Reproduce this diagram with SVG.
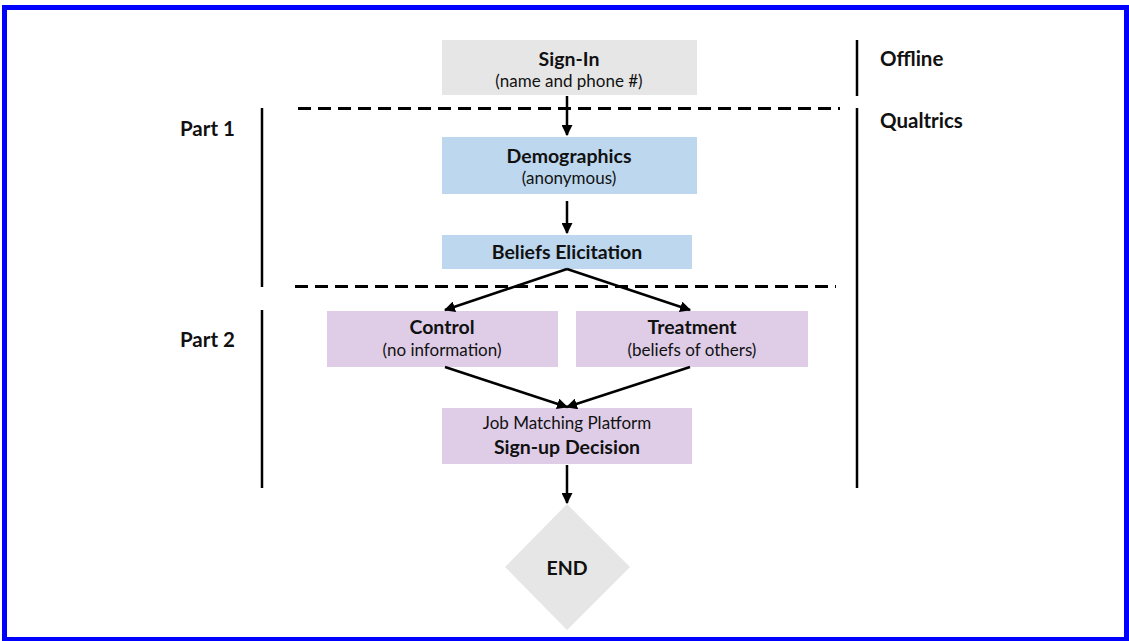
<svg xmlns="http://www.w3.org/2000/svg" width="1129" height="641" viewBox="0 0 1129 641">
<style>
text{font-family:"Lato","Open Sans","Liberation Sans",sans-serif;fill:#111;text-anchor:middle}
.b{font-weight:bold;font-size:19.5px}
.n{font-size:17px}
.lbl{font-weight:bold;font-size:20.5px;text-anchor:start}
.gray{fill:#e6e6e6}
.blue{fill:#bdd7ee}
.purple{fill:#dfcde7}
.edge{stroke:#000;stroke-width:2.5;fill:none;marker-end:url(#ah)}
.dash{stroke:#000;stroke-width:3;stroke-dasharray:13 7;fill:none}
.bar{stroke:#000;stroke-width:2.5;fill:none}
</style>
<defs>
<marker id="ah" viewBox="0 0 10 10" refX="9" refY="5" markerWidth="4.4" markerHeight="4.4" orient="auto" markerUnits="strokeWidth">
<path d="M0,0 L10,5 L0,10 z" fill="#000"/>
</marker>
</defs>
<rect x="0" y="0" width="1129" height="641" fill="#fff"/>
<rect x="4.5" y="7.5" width="1122" height="632" fill="none" stroke="#0000ff" stroke-width="5"/>

<g id="guides">
<line class="dash" x1="298" y1="108.5" x2="840" y2="108.5"/>
<line class="dash" x1="295" y1="286.5" x2="836" y2="286.5"/>
<line class="bar" x1="262" y1="108" x2="262" y2="287"/>
<line class="bar" x1="262" y1="310" x2="262" y2="488"/>
<line class="bar" x1="857" y1="40" x2="857" y2="96"/>
<line class="bar" x1="857" y1="108" x2="857" y2="488"/>
<text class="lbl" x="180" y="136">Part 1</text>
<text class="lbl" x="180" y="347">Part 2</text>
<text class="lbl" x="880" y="66">Offline</text>
<text class="lbl" x="880" y="128">Qualtrics</text>
</g>

<g id="signin">
<rect class="gray" x="442" y="40" width="255" height="55"/>
<text class="b" x="569" y="66">Sign-In</text>
<text class="n" x="569" y="87">(name and phone #)</text>
</g>
<g id="demographics">
<rect class="blue" x="442" y="137" width="255" height="57"/>
<text class="b" x="569" y="163">Demographics</text>
<text class="n" x="569" y="184">(anonymous)</text>
</g>
<g id="beliefs">
<rect class="blue" x="442" y="235" width="250" height="34"/>
<text class="b" x="567" y="259">Beliefs Elicitation</text>
</g>
<g id="control">
<rect class="purple" x="327" y="311" width="231" height="56"/>
<text class="b" x="442" y="334">Control</text>
<text class="n" x="442" y="356">(no information)</text>
</g>
<g id="treatment">
<rect class="purple" x="576" y="311" width="232" height="56"/>
<text class="b" x="692" y="334">Treatment</text>
<text class="n" x="692" y="356">(beliefs of others)</text>
</g>
<g id="jobmatching">
<rect class="purple" x="442" y="408" width="250" height="56"/>
<text class="n" x="567" y="429">Job Matching Platform</text>
<text class="b" x="567" y="454">Sign-up Decision</text>
</g>
<g id="end">
<polygon class="gray" points="567,504 630,567 567,630 505,567"/>
<text class="b" x="567" y="575">END</text>
</g>

<g id="connectors">
<line class="edge" x1="567" y1="96" x2="567" y2="135"/>
<line class="edge" x1="567" y1="201" x2="567" y2="233"/>
<line class="edge" x1="567" y1="269" x2="445" y2="310"/>
<line class="edge" x1="567" y1="269" x2="690" y2="310"/>
<line class="edge" x1="445" y1="367" x2="567" y2="407"/>
<line class="edge" x1="690" y1="367" x2="567" y2="407"/>
<line class="edge" x1="567" y1="465" x2="567" y2="503"/>
</g>
</svg>
